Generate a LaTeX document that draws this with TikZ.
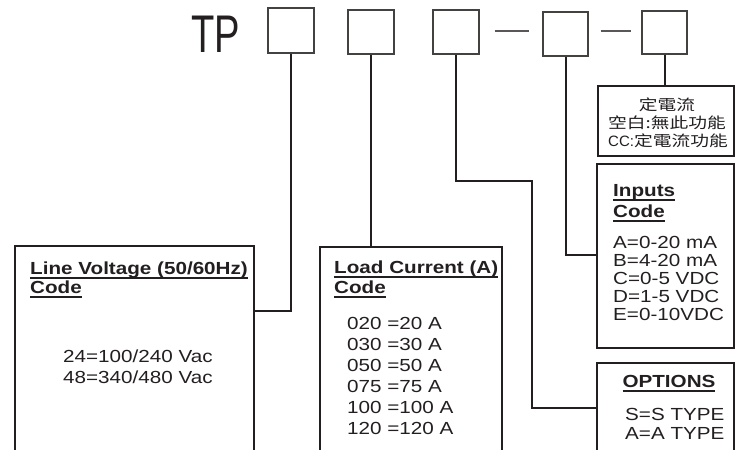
\documentclass[tikz,border=0pt]{standalone}
\usepackage{fontspec}
\usepackage{graphicx}
\usetikzlibrary{calc}
\setmainfont{Liberation Sans}
\newfontfamily\af{Liberation Sans}[FakeStretch=1.18]
\newfontfamily\cjk{Noto Sans CJK TC}
\definecolor{ink}{HTML}{231F20}
\newcommand{\hul}[1]{\setbox0\hbox{#1}\rlap{\rule[-4.5pt]{\wd0}{1.1pt}}\box0}
\newcommand{\cw}[1]{\scalebox{1.25}[1]{#1}}
\tikzset{
  txt/.style={inner sep=0pt, anchor=base west, text=ink, font=\af\fontsize{17.5}{21}\selectfont},
  head/.style={txt, font=\af\bfseries\fontsize{17.5}{21}\selectfont},
  cjktxt/.style={inner sep=0pt, anchor=base west, text=ink, font=\cjk\fontsize{15}{18}\selectfont},
  codebox/.style={draw=ink!85, line width=1.3pt, rectangle, inner sep=0pt},
  result/.style={draw=ink, line width=2pt, rectangle, inner sep=0pt},
  link/.style={draw=ink, line width=2pt},
  dashln/.style={draw=ink!75, line width=1.2pt}
}
\begin{document}
\begin{tikzpicture}[x=1pt,y=-1pt]
\useasboundingbox (0,0) rectangle (740,450);
% title
\node[inner sep=0pt, anchor=base, text=ink, font=\fontsize{53}{53}\selectfont] (tp) at (216,52) {\scalebox{0.72}[1]{TP}};
% code boxes
\node[codebox, minimum width=46, minimum height=45] (b1) at (291,30.5) {};
\node[codebox, minimum width=46, minimum height=44] (b2) at (371,32) {};
\node[codebox, minimum width=46, minimum height=44] (b3) at (456,32) {};
\node[codebox, minimum width=45, minimum height=44] (b4) at (565.5,34) {};
\node[codebox, minimum width=45, minimum height=43] (b5) at (664.5,32.5) {};
\draw[dashln] ($(b3.east)+(15,-1)$) -- ($(b3.east)+(49,-1)$);
\draw[dashln] ($(b4.east)+(12,-3)$) -- ($(b5.west)+(-10,-1.5)$);
% result boxes
\node[result, minimum width=239, minimum height=214] (lv) at (134.5,353) {};
\node[result, minimum width=182, minimum height=213] (lc) at (411,353.5) {};
\node[result, minimum width=136, minimum height=70] (def) at (666,121) {};
\node[result, minimum width=137, minimum height=184] (inp) at (665.5,256) {};
\node[result, minimum width=137, minimum height=97] (opt) at (665.5,411.5) {};
% connectors
\draw[link] (b1.south) |- ($(lv.north east)+(0,66)$);
\draw[link] (b2.south) -- (b2.south |- lc.north);
\draw[link] (b3.south) |- ($(inp.north west)+(-64,18)$) |- ($(opt.north west)+(0,46)$);
\draw[link] (b4.south) |- ($(inp.north west)+(0,92)$);
\draw[link] (b5.south) -- (b5.south |- def.north);
% line voltage
\node[head] (lvh1) at (30,274) {\hul{Line Voltage (50/60Hz)}};
\node[head] (lvh2) at (30,293) {\hul{Code}};
\node[txt] (lv1) at (63,362) {24=100/240 Vac};
\node[txt] (lv2) at (63,383) {48=340/480 Vac};
% load current
\node[head] (lch1) at (334,273) {\hul{Load Current (A)}};
\node[head] (lch2) at (334,293) {\hul{Code}};
\node[txt] (lc1) at (347,329) {020 =20 A};
\node[txt] (lc2) at (347,350) {030 =30 A};
\node[txt] (lc3) at (347,371) {050 =50 A};
\node[txt] (lc4) at (347,392) {075 =75 A};
\node[txt] (lc5) at (347,413) {100 =100 A};
\node[txt] (lc6) at (347,434) {120 =120 A};
% constant current
\node[cjktxt, anchor=base] (d1) at (667,110.5) {\cw{定電流}};
\node[cjktxt] (d2) at (608,128.5) {\cw{空白:無此功能}};
\node[cjktxt] (d3) at (608,146.5) {{\fontsize{15}{18}\selectfont\rmfamily CC:}\cw{定電流功能}};
% inputs
\node[head] (ih1) at (613,196) {\hul{Inputs}};
\node[head] (ih2) at (613,217) {\hul{Code}};
\node[txt] (i1) at (613,248) {A=0-20 mA};
\node[txt] (i2) at (613,266) {B=4-20 mA};
\node[txt] (i3) at (613,284) {C=0-5 VDC};
\node[txt] (i4) at (613,302) {D=1-5 VDC};
\node[txt] (i5) at (613,320) {E=0-10VDC};
% options
\node[head, anchor=base] (oh) at (669,387) {\hul{OPTIONS}};
\node[txt] (o1) at (625,420) {S=S TYPE};
\node[txt] (o2) at (625,439) {A=A TYPE};
\end{tikzpicture}
\end{document}
